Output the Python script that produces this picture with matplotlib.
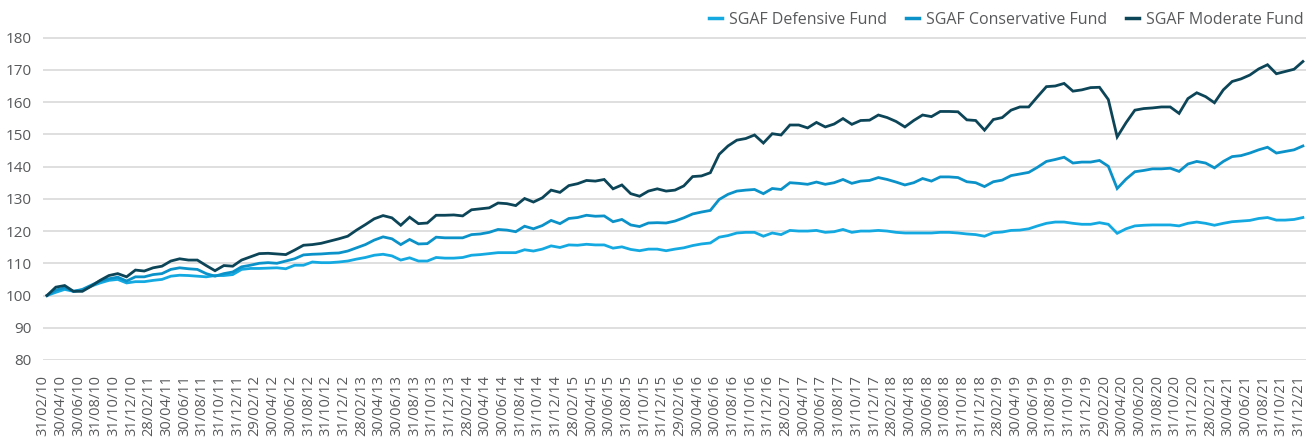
import matplotlib
matplotlib.use("Agg")
import matplotlib.pyplot as plt
import matplotlib.transforms as mtransforms

# Monthly index values, Feb 2010 .. Dec 2021 (143 points), rebased to 100
defensive = [
    100, 101, 101.9, 101.3, 101.7, 102.9, 103.9, 104.7, 105, 103.9, 104.3, 104.3,
    104.7, 105, 106, 106.3, 106.2, 106, 105.8, 106.2, 106.2, 106.5, 108.1, 108.4,
    108.4, 108.5, 108.6, 108.3, 109.4, 109.4, 110.4, 110.2, 110.2,
    110.4, 110.7, 111.3, 111.8, 112.5, 112.8, 112.3, 111, 111.7, 110.7, 110.7, 111.8,
    111.6, 111.6, 111.8, 112.5, 112.7, 113, 113.3, 113.3, 113.3, 114.2, 113.8, 114.4,
    115.4, 114.9, 115.7, 115.6, 115.9, 115.7, 115.7, 114.7, 115.1, 114.3, 113.9, 114.4,
    114.4,
    113.9, 114.4, 114.8, 115.5, 116, 116.3, 118.1, 118.6, 119.4, 119.6, 119.6, 118.4,
    119.4, 118.9, 120.2, 120, 120, 120.2, 119.6, 119.8, 120.5, 119.6, 120, 120,
    120.2, 120, 119.6, 119.4, 119.4, 119.4, 119.4, 119.6, 119.6, 119.4, 119.1, 118.9,
    118.4,
    119.5, 119.7, 120.2, 120.3, 120.7, 121.6, 122.4, 122.8, 122.8, 122.4, 122.1, 122.1,
    122.6, 122.1, 119.3, 120.7, 121.6, 121.8, 121.9, 121.9, 121.9, 121.6, 122.4, 122.8,
    122.4, 121.8, 122.4, 122.9, 123.1, 123.3, 123.9, 124.2, 123.4, 123.4, 123.6, 124.2,
]

conservative = [
    100, 101.7, 102.4, 101.3, 101.9, 103.2, 104.5, 105.2, 105.7, 104.5, 105.8, 105.8,
    106.5, 106.8, 108.1, 108.6, 108.3, 108.1, 106.8, 106, 106.8, 107.3, 108.9, 109.4,
    110, 110.2, 110, 110.7, 111.4, 112.6, 112.8, 112.9, 113.1,
    113.2, 113.8, 114.8, 115.8, 117.2, 118.2, 117.6, 115.8, 117.4, 116, 116.1, 118.1,
    117.9, 117.9, 117.9, 118.9, 119.1, 119.6, 120.5, 120.3, 119.8, 121.5, 120.7, 121.7,
    123.3, 122.3, 123.9, 124.2, 124.9, 124.6, 124.7, 122.9, 123.6, 121.9, 121.4, 122.5,
    122.6,
    122.5, 123.1, 124.1, 125.3, 125.9, 126.4, 129.8, 131.4, 132.4, 132.7, 132.9, 131.6,
    133.2, 132.9, 135, 134.8, 134.5, 135.2, 134.5, 135, 136, 134.8, 135.5, 135.7,
    136.6, 136, 135.2, 134.3, 135, 136.3, 135.5, 136.8, 136.8, 136.6, 135.3, 135,
    133.8,
    135.3, 135.8, 137.2, 137.7, 138.2, 139.8, 141.6, 142.2, 142.9, 141.1, 141.4, 141.4,
    141.9, 140.1, 133.2, 136.1, 138.4, 138.8, 139.3, 139.3, 139.5, 138.5, 140.8, 141.6,
    141.1, 139.6, 141.6, 143.1, 143.4, 144.2, 145.2, 146, 144.2, 144.7, 145.2, 146.4,
]

moderate = [
    100, 102.6, 103.1, 101.3, 101.3, 102.9, 104.7, 106.2, 106.8, 105.8, 107.9, 107.6,
    108.6, 109.1, 110.7, 111.4, 111, 111, 109.3, 107.7, 109.3, 109.1, 111, 112,
    113, 113.1, 112.9, 112.7, 114.1, 115.6, 115.8, 116.2, 116.9,
    117.6, 118.4, 120.3, 122, 123.8, 124.8, 124.1, 121.8, 124.3, 122.3, 122.5, 124.9,
    124.9, 125, 124.7, 126.6, 126.9, 127.2, 128.7, 128.5, 127.9, 130.1, 129, 130.3,
    132.7, 132, 134.1, 134.7, 135.7, 135.5, 136, 133.1, 134.3, 131.6, 130.8, 132.4,
    133.1,
    132.4, 132.7, 134, 136.9, 137.1, 138.1, 143.8, 146.4, 148.2, 148.7, 149.8, 147.3,
    150.2, 149.8, 152.9, 152.9, 152, 153.7, 152.3, 153.2, 154.9, 153.1, 154.3, 154.4,
    156, 155.2, 154, 152.3, 154.3, 156, 155.5, 157.1, 157.1, 157, 154.5, 154.3,
    151.3,
    154.6, 155.2, 157.5, 158.5, 158.5, 161.7, 164.8, 165, 165.8, 163.4, 163.8, 164.5,
    164.6, 160.8, 149.2, 153.6, 157.5, 158, 158.2, 158.5, 158.5, 156.5, 161.1, 162.9,
    161.7, 159.8, 163.8, 166.4, 167.2, 168.4, 170.3, 171.6, 168.8, 169.5, 170.2, 172.6,
]

# every second month is labelled
tick_labels = [
    "31/02/10", "30/04/10", "30/06/10", "31/08/10", "31/10/10", "31/12/10",
    "28/02/11", "30/04/11", "30/06/11", "31/08/11", "31/10/11", "31/12/11",
    "29/02/12", "30/04/12", "30/06/12", "31/08/12", "31/10/12", "31/12/12",
    "28/02/13", "30/04/13", "30/06/13", "31/08/13", "31/10/13", "31/12/13",
    "28/02/14", "30/04/14", "30/06/14", "31/08/14", "31/10/14", "31/12/14",
    "28/02/15", "30/04/15", "30/06/15", "31/08/15", "31/10/15", "31/12/15",
    "29/02/16", "30/04/16", "30/06/16", "31/08/16", "31/10/16", "31/12/16",
    "28/02/17", "30/04/17", "30/06/17", "31/08/17", "31/10/17", "31/12/17",
    "28/02/18", "30/04/18", "30/06/18", "31/08/18", "31/10/18", "31/12/18",
    "28/02/19", "30/04/19", "30/06/19", "31/08/19", "31/10/19", "31/12/19",
    "29/02/20", "30/04/20", "30/06/20", "31/08/20", "31/10/20", "31/12/20",
    "28/02/21", "30/04/21", "30/06/21", "31/08/21", "31/10/21", "31/12/21",
]

series_names = ["SGAF Defensive Fund", "SGAF Conservative Fund", "SGAF Moderate Fund"]
colors = ["#14a9e1", "#0b92c9", "#0d4558"]
text_color = "#58595b"

plt.rcParams["font.family"] = ["Open Sans", "DejaVu Sans"]

W, H = 1306, 437
fig = plt.figure(figsize=(W / 100, H / 100), dpi=100)
ax = fig.add_axes([43 / W, (H - 360) / H, 1 - 43 / W, (360 - 37) / H])

x = list(range(len(moderate)))
for vals, name, col in zip([defensive, conservative, moderate], series_names, colors):
    ax.plot(x, vals, color=col, linewidth=2.0, label=name, solid_joinstyle="miter")

ax.set_xlim(-0.45, len(moderate) - 1 + 0.35)
ax.set_ylim(80, 180.2)
ax.set_yticks(range(80, 181, 10))
ax.grid(axis="y", color="#d9d9d9", linewidth=1.2)
ax.set_axisbelow(True)
for s in ax.spines.values():
    s.set_visible(False)

ax.set_xticks(x[::2])
ax.set_xticklabels(tick_labels, rotation=90, va="top", ha="center")
ax.tick_params(axis="x", length=0, pad=11, labelsize=10.5, labelcolor=text_color)
ax.tick_params(axis="y", length=0, pad=8, labelsize=11, labelcolor=text_color)

# labels sit a few pixels left of their data point in the original
shift = mtransforms.ScaledTranslation(-4 / 100, 0, fig.dpi_scale_trans)
for lab in ax.get_xticklabels():
    lab.set_transform(lab.get_transform() + shift)

leg = fig.legend(loc="center right", bbox_to_anchor=(1304 / W, 1 - 20 / H), ncol=3,
                 frameon=False, borderpad=0, borderaxespad=0,
                 handlelength=0.8, handletextpad=0.45, columnspacing=1.2,
                 fontsize=11.5, labelcolor=text_color)
for line in leg.get_lines():
    line.set_linewidth(2.5)

fig.savefig("out.png", dpi=100)
